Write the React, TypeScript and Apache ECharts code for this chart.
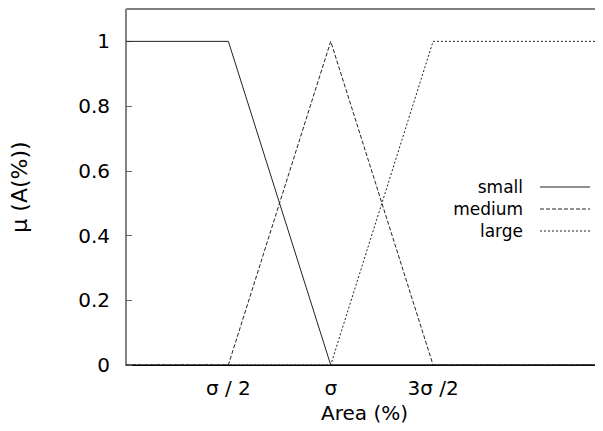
import React, { useEffect, useRef } from "react";
import * as echarts from "echarts";

// x in units of sigma/2
const xTickValues = [1, 2, 3];
const xTickLabels = ["σ / 2", "σ", "3σ /2"];
const yTickValues = [0, 0.2, 0.4, 0.6, 0.8, 1];
const xMax = 4.66;

const smallPts: [number, number][] = [[0, 1], [1, 1], [2, 0], [4.66, 0]];
const mediumPts: [number, number][] = [[0, 0], [1, 0], [2, 1], [3, 0], [4.66, 0]];
const largePts: [number, number][] = [[0, 0], [2, 0], [3, 1], [4.66, 1]];

const seriesNames = ["small", "medium", "large"];
const seriesDash: (number[] | "solid")[] = ["solid", [4, 2], [2, 2]];

const FONT = "DejaVu Sans";

export default function App() {
  const ref = useRef<HTMLDivElement>(null);
  useEffect(() => {
    if (!ref.current) return;
    const chart = echarts.init(ref.current, undefined, { renderer: "svg" });
    const datasets = [smallPts, mediumPts, largePts];
    const legendX1 = 540, legendX2 = 590, legendTextRight = 523;
    const legendY = [187, 209, 231];
    const graphic: any[] = [];
    seriesNames.forEach((n, i) => {
      graphic.push({
        type: "text",
        x: legendTextRight,
        y: legendY[i],
        style: { text: n, fontFamily: FONT, fontSize: 17, fill: "#000", align: "right", verticalAlign: "middle" },
      });
      graphic.push({
        type: "line",
        shape: { x1: legendX1, y1: legendY[i], x2: legendX2, y2: legendY[i] },
        style: { stroke: "#222", lineWidth: 1, lineDash: seriesDash[i] === "solid" ? null : seriesDash[i] },
      });
    });
    chart.setOption({
      animation: false,
      backgroundColor: "#fff",
      grid: {
        left: 126,
        right: 0,
        top: 9,
        bottom: 66,
        containLabel: false,
        outerBoundsMode: "none",
        show: true,
        borderColor: "#000",
        borderWidth: 1,
        backgroundColor: "transparent",
      },
      xAxis: {
        type: "value",
        min: 0,
        max: xMax,
        interval: 1,
        name: "Area (%)",
        nameLocation: "middle",
        nameGap: 37,
        nameTextStyle: { fontFamily: FONT, fontSize: 20, color: "#000" },
        axisLine: { show: true, lineStyle: { color: "#000", width: 1 } },
        axisTick: { show: false },
        splitLine: { show: false },
        axisLabel: {
          customValues: xTickValues,
          formatter: (v: number) => {
            const idx = xTickValues.indexOf(Math.round(v * 100) / 100);
            return idx >= 0 ? xTickLabels[idx] : "";
          },
          fontFamily: FONT,
          fontSize: 20,
          color: "#000",
          margin: 13,
        },
      },
      yAxis: {
        type: "value",
        min: 0,
        max: 1.1,
        interval: 0.2,
        name: "μ (A(%))",
        nameLocation: "middle",
        nameGap: 96,
        nameTextStyle: { fontFamily: FONT, fontSize: 22, color: "#000" },
        axisLine: { show: true, lineStyle: { color: "#888", width: 1 } },
        axisTick: { show: true, inside: true, length: 6, customValues: yTickValues, lineStyle: { color: "#666" } },
        splitLine: { show: false },
        axisLabel: {
          customValues: yTickValues,
          formatter: (v: number) => (v === 0 ? "0" : v === 1 ? "1" : v.toFixed(1)),
          fontFamily: FONT,
          fontSize: 20,
          color: "#000",
          margin: 16,
        },
      },
      series: datasets.map((d, i) => ({
        name: seriesNames[i],
        type: "line",
        data: d,
        symbol: "none",
        lineStyle: { color: "#222", width: 1, type: seriesDash[i] },
      })),
      graphic,
    });
    return () => chart.dispose();
  }, []);
  return <div ref={ref} style={{ width: 603, height: 431, marginLeft: -8, marginTop: -8 }} />;
}
